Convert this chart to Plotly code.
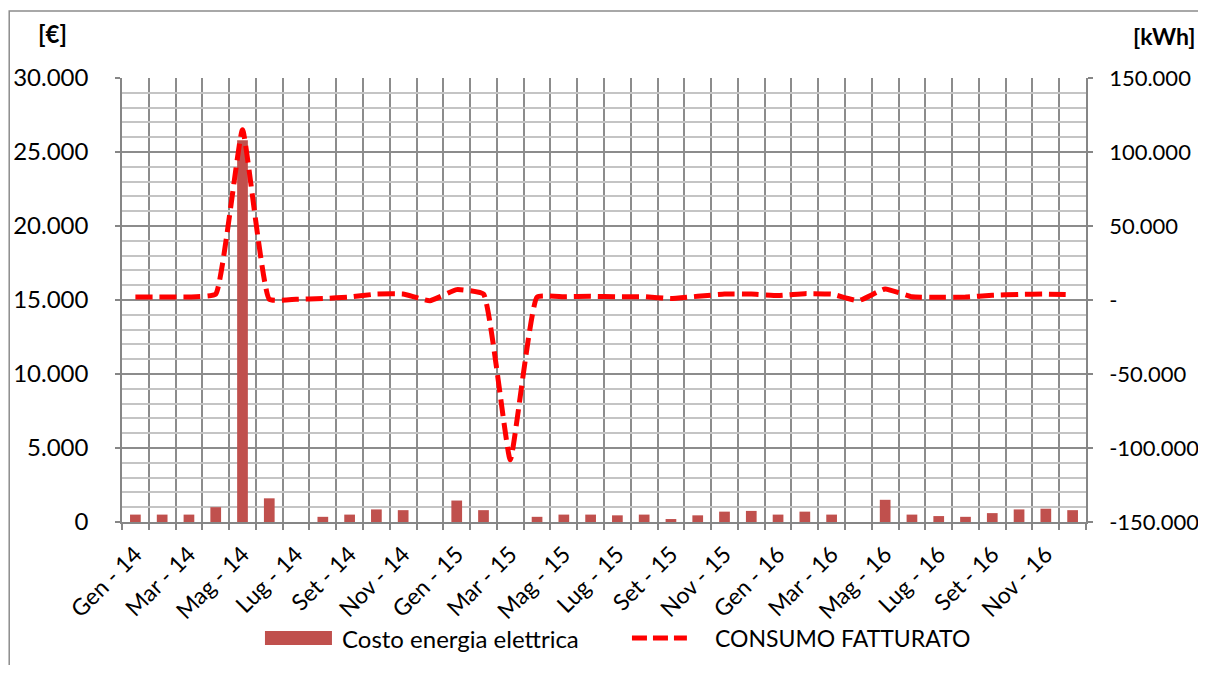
import plotly.graph_objects as go

months = ["Gen", "Feb", "Mar", "Apr", "Mag", "Giu", "Lug", "Ago", "Set", "Ott", "Nov", "Dic"]
years = ["14", "15", "16"]
categories = [f"{m} - {y}" for y in years for m in months]

costo = [500, 500, 500, 1000, 25800, 1600, 0, 350, 500, 850, 800, 0,
         1450, 800, -200, 350, 500, 500, 450, 500, 200, 450, 700, 750,
         500, 700, 500, 0, 1500, 500, 400, 350, 600, 850, 900, 800]
consumo = [2000, 2000, 2000, 4000, 115000, 500, 500, 1000, 2000, 4000, 4000, -500,
           7000, 4000, -108000, 2000, 2200, 2500, 2200, 2200, 1000, 2500, 4000, 4000,
           3000, 4300, 4000, -500, 7500, 2200, 1800, 2000, 3200, 3800, 4000, 3600]

left_ticks = [0, 5000, 10000, 15000, 20000, 25000, 30000]
left_text = ["0", "5.000", "10.000", "15.000", "20.000", "25.000", "30.000"]
right_ticks = [-150000, -100000, -50000, 0, 50000, 100000, 150000]
right_text = ["-150.000", "-100.000", "-50.000", "-", "50.000", "100.000", "150.000"]

series_names = ["Costo energia elettrica", "CONSUMO FATTURATO"]
bar_color = "#C0504D"
line_color = "#FF0000"

x = list(range(len(categories)))
FONT = "Lato"
GRID = "#8c8c8c"

fig = go.Figure()
fig.add_trace(go.Bar(
    x=x, y=costo, name=series_names[0],
    marker=dict(color=bar_color, line=dict(width=0)),
    width=0.4, cliponaxis=False, yaxis="y", showlegend=False,
))
fig.add_trace(go.Scatter(
    x=x, y=consumo, name=series_names[1], mode="lines",
    line=dict(color=line_color, width=5, dash="17px,7px", shape="spline", smoothing=0.35),
    yaxis="y2", showlegend=False,
))

# custom legend (wide swatches as in the reference)
legend_shapes = [
    dict(type="rect", xref="paper", yref="paper", x0=0.1483, x1=0.2178, y0=-0.277, y1=-0.2455,
         line=dict(width=0), fillcolor=bar_color),
    dict(type="line", xref="paper", yref="paper", x0=0.529, x1=0.586, y0=-0.2613, y1=-0.2613,
         line=dict(color=line_color, width=5, dash="15px,6px")),
]
legend_texts = [
    dict(text=series_names[0], xref="paper", yref="paper", x=0.2261, y=-0.2613,
         xanchor="left", yanchor="middle", showarrow=False, font=dict(size=24)),
    dict(text=series_names[1], xref="paper", yref="paper", x=0.6131, y=-0.2613,
         xanchor="left", yanchor="middle", showarrow=False, font=dict(size=23)),
]

# the page body adds an 8px offset, so the figure is smaller and margins compensate
fig.update_layout(
    width=1190, height=657,
    margin=dict(l=114, r=112, t=70, b=143, autoexpand=False),
    paper_bgcolor="white", plot_bgcolor="white",
    font=dict(family=FONT, size=24, color="#000000"),
    showlegend=False,
    xaxis=dict(
        range=[-0.5, len(categories) - 0.5], automargin=False,
        tickmode="array", tickvals=x[::2], ticktext=categories[::2],
        tickangle=-45, ticks="", showgrid=False, zeroline=False,
        showline=True, linecolor="#868686", linewidth=1.5,
        tickfont=dict(size=23), ticklabelstandoff=8,
        minor=dict(tick0=-0.5, dtick=1, showgrid=True, gridcolor=GRID, gridwidth=1.5,
                   ticks="outside", ticklen=6, tickcolor="#868686", tickwidth=1.5),
    ),
    yaxis=dict(
        range=[0, 30000], automargin=False,
        tickmode="array", tickvals=left_ticks, ticktext=left_text,
        showgrid=True, gridcolor=GRID, gridwidth=1.5, zeroline=False,
        showline=True, linecolor="#868686", linewidth=1.5,
        ticks="outside", ticklen=5, tickcolor="#868686", tickwidth=1.5,
        ticklabelstandoff=22, tickfont=dict(size=24),
        minor=dict(dtick=1000, showgrid=True, gridcolor="#c4c4c4", gridwidth=1.5, ticks=""),
    ),
    yaxis2=dict(
        range=[-150000, 150000], overlaying="y", side="right", automargin=False,
        tickmode="array", tickvals=right_ticks, ticktext=right_text,
        showgrid=False, zeroline=False,
        showline=True, linecolor="#868686", linewidth=1.5,
        ticks="outside", ticklen=5, tickcolor="#868686", tickwidth=1.5,
        ticklabelstandoff=12, tickfont=dict(size=22),
    ),
    annotations=[
        dict(text="<b>[€]</b>", xref="paper", yref="paper", x=-0.072, y=1.1,
             xanchor="center", yanchor="middle", showarrow=False, font=dict(size=24)),
        dict(text="<b>[kWh]</b>", xref="paper", yref="paper", x=1.081, y=1.095,
             xanchor="center", yanchor="middle", showarrow=False, font=dict(size=23)),
    ] + legend_texts,
    shapes=[
        dict(type="rect", xref="paper", yref="paper", x0=-0.117, x1=1.135, y0=-0.37, y1=1.151,
             line=dict(color=GRID, width=1.5), fillcolor="rgba(0,0,0,0)", layer="below"),
    ] + legend_shapes,
)

fig.write_html("out.html")
